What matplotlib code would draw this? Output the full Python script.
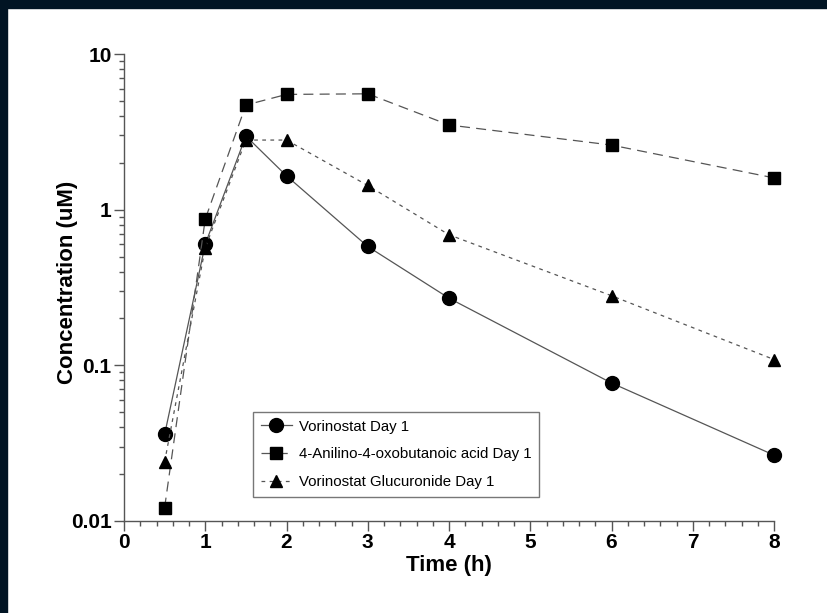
import matplotlib
matplotlib.use("Agg")
import matplotlib.pyplot as plt
from matplotlib.patches import Rectangle
from matplotlib.ticker import LogLocator, MultipleLocator, FixedLocator, FixedFormatter

plt.rcParams['font.family'] = ['Liberation Sans', 'DejaVu Sans']

# sampling times (h)
time_h = [0.5, 1, 1.5, 2, 3, 4, 6, 8]

# concentrations (uM)
vorinostat = [0.036, 0.60, 2.97, 1.65, 0.58, 0.27, 0.077, 0.0265]
anilino_acid = [0.0122, 0.87, 4.7, 5.5, 5.55, 3.5, 2.6, 1.6]
glucuronide = [0.024, 0.57, 2.8, 2.8, 1.43, 0.69, 0.28, 0.109]

labels = ["Vorinostat Day 1",
          "4-Anilino-4-oxobutanoic acid Day 1",
          "Vorinostat Glucuronide Day 1"]

y_ticks = [0.01, 0.1, 1, 10]
y_ticklabels = ["0.01", "0.1", "1", "10"]

W, H = 827, 613
fig = plt.figure(figsize=(W / 100, H / 100), dpi=100)

# dark frame on the left and top edge
fig.add_artist(Rectangle((0, 0), 7 / W, 1, transform=fig.transFigure,
                         color='#011423', zorder=10))
fig.add_artist(Rectangle((0, 1 - 8 / H), 1, 8 / H, transform=fig.transFigure,
                         color='#011423', zorder=10))

x0, x1 = 124, 774
y_top, y_bot = 54, 521
ax = fig.add_axes([x0 / W, (H - y_bot) / H, (x1 - x0) / W, (y_bot - y_top) / H])

line_col = '#555555'
ax.plot(time_h, vorinostat, color=line_col, lw=0.9, marker='o', ms=10,
        mfc='black', mec='black', label=labels[0], zorder=3, clip_on=False)
ax.plot(time_h, anilino_acid, color=line_col, lw=0.9, dashes=(8, 5),
        marker='s', ms=9, mfc='black', mec='black', label=labels[1], zorder=3,
        clip_on=False)
ax.plot(time_h, glucuronide, color=line_col, lw=0.9, dashes=(3, 3.5),
        marker='^', ms=9, mfc='black', mec='black', label=labels[2], zorder=3,
        clip_on=False)

ax.set_yscale('log')
ax.set_ylim(0.01, 10)
ax.set_xlim(0, 8)
ax.yaxis.set_major_locator(FixedLocator(y_ticks))
ax.yaxis.set_major_formatter(FixedFormatter(y_ticklabels))
ax.yaxis.set_minor_locator(LogLocator(base=10, subs=range(2, 10)))
ax.xaxis.set_major_locator(MultipleLocator(1))
ax.xaxis.set_minor_locator(MultipleLocator(0.2))

for s in ['top', 'right']:
    ax.spines[s].set_visible(False)
for s in ['left', 'bottom']:
    ax.spines[s].set_color('#555555')
    ax.spines[s].set_linewidth(1.0)

ax.tick_params(which='major', length=7, width=1, color='#555555', direction='out')
ax.tick_params(which='minor', length=3.5, width=1, color='#555555', direction='out')
ax.tick_params(axis='both', which='major', labelsize=15, pad=2)
for t in ax.get_xticklabels() + ax.get_yticklabels():
    t.set_fontweight('bold')

ax.set_xlabel("Time (h)", fontsize=16, fontweight='bold')
ax.set_ylabel("Concentration (uM)", fontsize=16, fontweight='bold')
ax.xaxis.set_label_coords(0.5, -(565 - y_bot) / (y_bot - y_top), transform=ax.transAxes)
ax.xaxis.label.set_va('center')
ax.yaxis.set_label_coords(-(x0 - 67) / (x1 - x0), (y_bot - 282) / (y_bot - y_top),
                          transform=ax.transAxes)
ax.yaxis.label.set_va('center')

leg = ax.legend(loc='upper left', bbox_to_anchor=(253 / W, 1 - 412 / H),
                bbox_transform=fig.transFigure, borderaxespad=0,
                fancybox=False, frameon=True, fontsize=10.8, handlelength=2.1,
                labelspacing=0.92, borderpad=0.5, handletextpad=0.45)
leg.get_frame().set_edgecolor('#555555')
leg.get_frame().set_linewidth(1.0)

fig.savefig("out.png", dpi=100)
